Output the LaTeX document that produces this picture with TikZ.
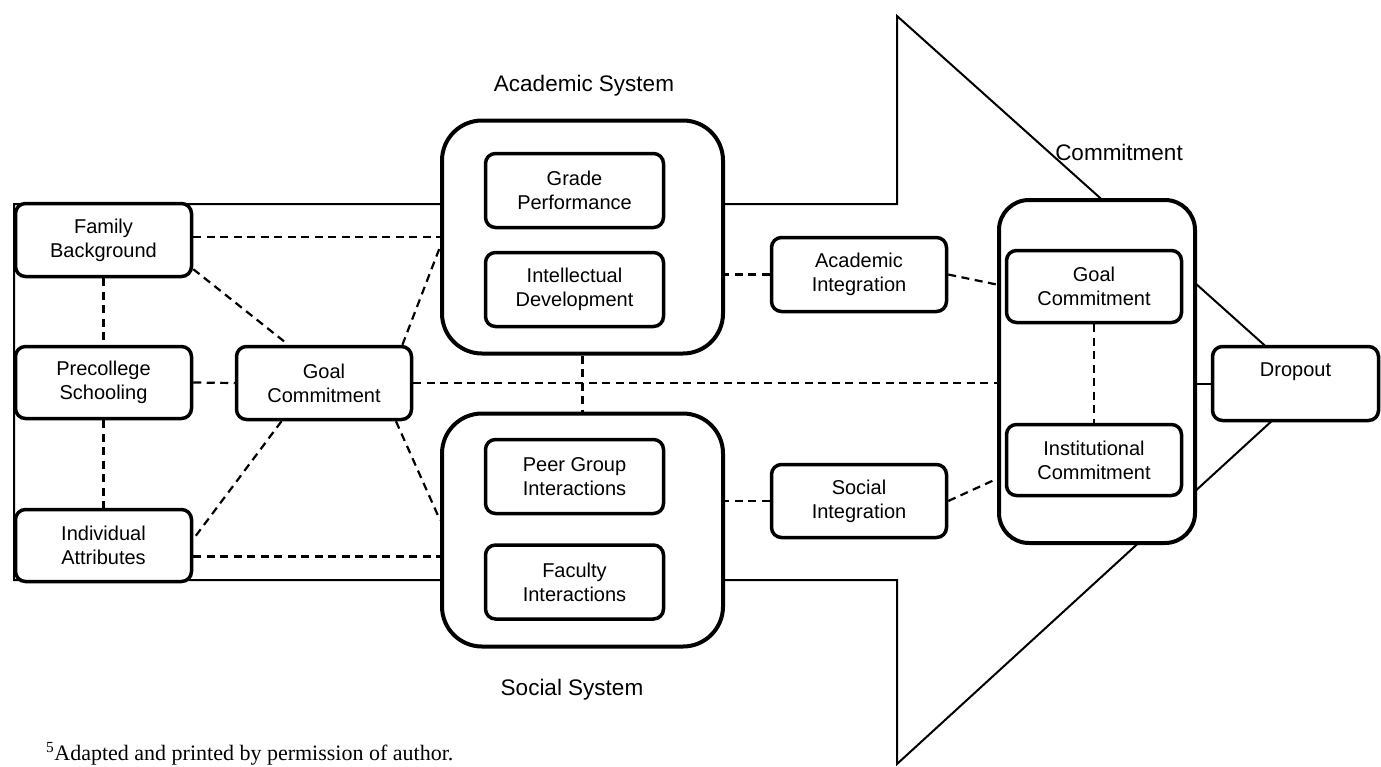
\documentclass[tikz,border=0pt]{standalone}
\usepackage{fontspec}
\setmainfont{Liberation Sans}
\newfontfamily\footserif{Liberation Serif}
\usetikzlibrary{calc}
\begin{document}
\begin{tikzpicture}[x=1pt,y=-1pt,
  box/.style={draw, line width=3.5pt, rounded corners=10pt, fill=white, align=center,
    font=\fontsize{20}{24}\selectfont, inner sep=0pt},
  bigbox/.style={draw, line width=4pt, rounded corners=40pt, fill=white, inner sep=0pt},
  link/.style={line width=2.2pt, dash pattern=on 8pt off 5.5pt},
  shaft/.style={line width=2pt, line join=miter},
  lbl/.style={font=\fontsize{22.5}{27}\selectfont, inner sep=0pt}
]
\useasboundingbox (0,0) rectangle (1381,766);
\clip (0,0) rectangle (1381,766);

% big arrow shape
\draw[shaft] (14,204) -- (897,204) -- (897,16) -- (1310,386) -- (897,764) -- (897,580) -- (14,580) -- cycle;

% left column
\node[box, minimum width=176pt, minimum height=73pt] (fam) at (103.5,240) {Family\\Background};
\node[box, minimum width=176pt, minimum height=72pt] (pre) at (103.5,382.5) {Precollege\\Schooling};
\node[box, minimum width=176pt, minimum height=72pt] (ind) at (103.5,545.5) {Individual\\Attributes};
\node[box, minimum width=175pt, minimum height=73pt] (goal) at (324,383) {Goal\\Commitment};

% academic and social systems
\node[bigbox, minimum width=281pt, minimum height=233pt] (acad) at (582.5,237) {};
\node[box, minimum width=178pt, minimum height=74pt] (grade) at (574.5,190.5) {Grade\\Performance};
\node[box, minimum width=178pt, minimum height=74pt] (intel) at (574.5,289.5) {Intellectual\\Development};
\node[bigbox, minimum width=281pt, minimum height=233pt] (soc) at (582.5,530) {};
\node[box, minimum width=178pt, minimum height=74pt] (peer) at (574.5,476.5) {Peer Group\\Interactions};
\node[box, minimum width=178pt, minimum height=74pt] (fac) at (574.5,582) {Faculty\\Interactions};

% integration
\node[box, minimum width=175pt, minimum height=74pt] (ai) at (859,274.5) {Academic\\Integration};
\node[box, minimum width=175pt, minimum height=73pt] (si) at (859,501) {Social\\Integration};

% commitment
\node[bigbox, rounded corners=30pt, minimum width=196pt, minimum height=343pt] (com) at (1097,371.5) {};
\node[box, minimum width=175pt, minimum height=72pt] (gc) at (1094,286.5) {Goal\\Commitment};
\node[box, minimum width=175pt, minimum height=71pt] (ic) at (1094,460) {Institutional\\Commitment};

% dropout
\node[box, minimum width=166pt, minimum height=74pt] (drop) at (1295.5,383.5) {Dropout\\\phantom{Dy}};

% labels
\node[lbl] (acadlbl) at (584,86) {Academic System};
\node[lbl] (soclbl) at (572,690) {Social System};
\node[lbl] (comlbl) at (1119,152) {Commitment};
\node[anchor=base west, inner sep=0pt, font=\footserif\fontsize{22}{26}\selectfont] (note) at (46,760)
  {\textsuperscript{5}Adapted and printed by permission of author.};

% connectors
\draw[link] (fam.2) -- (fam.2 -| acad.west);
\draw[link] (fam.-18.5) -- (goal.133.5);
\draw[link] (fam.south) -- (pre.north);
\draw[link] (pre.east) -- (goal.west);
\draw[link] (pre.south) -- (ind.north);
\draw[link] (goal.26.6) -- (acad.184);
\draw[link] (goal.222) -- (ind.4.8);
\draw[link] (goal.-28.8) -- (soc.176.8);
\draw[link] (ind.-7.3) -- (ind.-7.3 -| soc.west);
\draw[link] (goal.east) -- (goal.east -| com.west);
\draw[link] (acad.south) -- (soc.north);
\draw[link] (ai.west) -- (ai.west -| acad.east);
\draw[link] (ai.east) -- (com.139.5);
\draw[link] (si.west) -- (si.west -| soc.east);
\draw[link] (si.east) -- (com.227);
\draw[link] (gc.south) -- (ic.north);
\draw[line width=2pt] (drop.west) -- (drop.west -| com.east);
\end{tikzpicture}
\end{document}
